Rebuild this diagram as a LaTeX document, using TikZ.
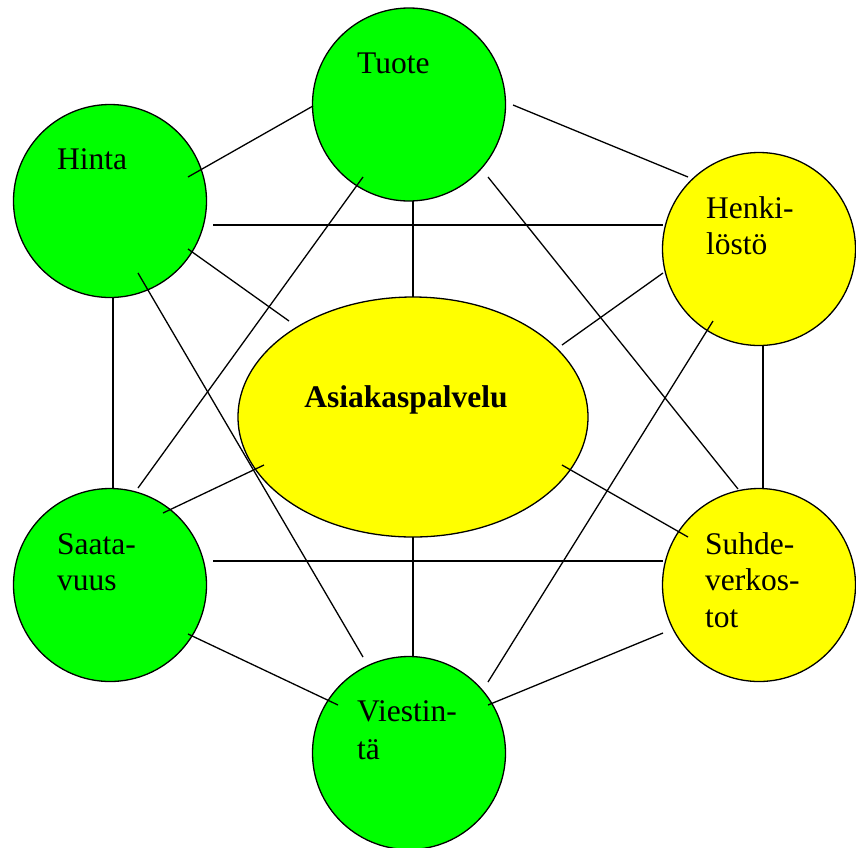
\documentclass[tikz,border=0pt]{standalone}
\usepackage{fontspec}
\setmainfont{Liberation Serif}
\usetikzlibrary{shapes.geometric}
\definecolor{ballgreen}{RGB}{0,255,0}
\definecolor{ballyellow}{RGB}{255,255,0}
\tikzset{
  ball/.style={circle, draw=black, line width=1.3pt, minimum size=193pt, inner sep=0pt},
  greenball/.style={ball, fill=ballgreen},
  yellowball/.style={ball, fill=ballyellow},
  hub/.style={ellipse, draw=black, line width=1.3pt, fill=ballyellow,
              minimum width=350pt, minimum height=240pt, inner sep=0pt},
  link/.style={draw=black, line width=1.3pt},
  word/.style={anchor=base west, inner sep=0pt, font=\fontsize{31.5}{36}\selectfont},
}
\begin{document}
\begin{tikzpicture}[x=1pt, y=-1pt]
  \useasboundingbox (0,0) rectangle (856,847);

  % circles and the central ellipse
  \node[greenball]  (tuote)  at (409,104.5) {};
  \node[greenball]  (hinta)  at (110,201) {};
  \node[yellowball] (henk)   at (759,249) {};
  \node[greenball]  (saat)   at (110,585) {};
  \node[yellowball] (suhde)  at (759,585) {};
  \node[greenball]  (viest)  at (409,753) {};
  \node[hub]        (asiak)  at (413,417) {};

  % connecting lines (end points given relative to the shape centres)
  \draw[link] ([shift={(78,-24)}]hinta.center)   -- ([shift={(-96,1.5)}]tuote.center);
  \draw[link] ([shift={(104,0.5)}]tuote.center)  -- ([shift={(-71,-72)}]henk.center);
  \draw[link] ([shift={(103,24)}]hinta.center)   -- ([shift={(-96,-24)}]henk.center);
  \draw[link] ([shift={(78,48)}]hinta.center)    -- ([shift={(-124,-96)}]asiak.center);
  \draw[link] ([shift={(4,96.5)}]tuote.center)   -- ([shift={(0,-120)}]asiak.center);
  \draw[link] ([shift={(-46,72.5)}]tuote.center) -- ([shift={(28,-97)}]saat.center);
  \draw[link] ([shift={(79,72.5)}]tuote.center)  -- ([shift={(-21,-96)}]suhde.center);
  \draw[link] ([shift={(-96,24)}]henk.center)    -- ([shift={(149,-72)}]asiak.center);
  \draw[link] ([shift={(-46,72)}]henk.center)    -- ([shift={(79,-71)}]viest.center);
  \draw[link] ([shift={(3,96)}]hinta.center)     -- ([shift={(3,-96)}]saat.center);
  \draw[link] ([shift={(4,96)}]henk.center)      -- ([shift={(4,-97)}]suhde.center);
  \draw[link] ([shift={(28,72)}]hinta.center)    -- ([shift={(-46,-96)}]viest.center);
  \draw[link] ([shift={(-149,48)}]asiak.center)  -- ([shift={(53,-72)}]saat.center);
  \draw[link] ([shift={(149,48)}]asiak.center)   -- ([shift={(-71,-48)}]suhde.center);
  \draw[link] ([shift={(103,-24)}]saat.center)   -- ([shift={(-96,-24)}]suhde.center);
  \draw[link] ([shift={(0,120)}]asiak.center)    -- ([shift={(4,-96)}]viest.center);
  \draw[link] ([shift={(78,49)}]saat.center)     -- ([shift={(-71,-48)}]viest.center);
  \draw[link] ([shift={(-96,48)}]suhde.center)   -- ([shift={(79,-48)}]viest.center);

  % labels
  \node[word] (ttuote)  at (357,73)  {Tuote};
  \node[word] (thinta)  at (57,169)  {Hinta};
  \node[word] (thenka)  at (706,218) {Henki-};
  \node[word] (thenkb)  at (706,254) {löstö};
  \node[word] (tsaata)  at (57,554)  {Saata-};
  \node[word] (tsaatb)  at (57,590)  {vuus};
  \node[word] (tsuha)   at (705,554) {Suhde-};
  \node[word] (tsuhb)   at (705,590) {verkos-};
  \node[word] (tsuhc)   at (705,627) {tot};
  \node[word] (tviesa)  at (357,721) {Viestin-};
  \node[word] (tviesb)  at (357,759) {tä};
  \node[word, anchor=base, font=\fontsize{31.5}{36}\selectfont\bfseries] (tasiak) at (406,407) {Asiakaspalvelu};
\end{tikzpicture}
\end{document}
